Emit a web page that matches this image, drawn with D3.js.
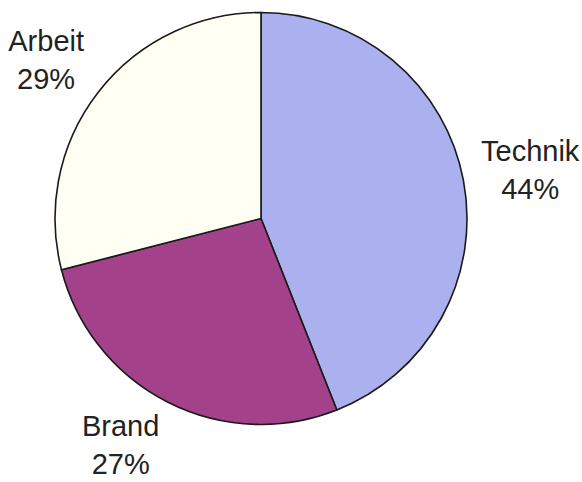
<!DOCTYPE html>
<html>
<head>
<meta charset="utf-8">
<script src="https://cdn.jsdelivr.net/npm/d3@7/dist/d3.min.js"></script>
<style>
html,body{margin:0;padding:0;background:#fff;}
svg{display:block;}
text{font-family:"Liberation Sans",Arial,sans-serif;}
</style>
</head>
<body>
<svg id="chart" width="582" height="482"></svg>
<script>
const categories = ["Technik", "Brand", "Arbeit"];
const values = [44, 27, 29];
const colors = ["#abb0ee", "#a3428a", "#fffff4"];

const width = 582, height = 482;
const cx = 261, cy = 218.5, radius = 206;
const svg = d3.select("#chart");
const g = svg.append("g").attr("transform", `translate(${cx},${cy})`);

const data = categories.map((c, i) => ({ name: c, value: values[i], color: colors[i] }));
const pie = d3.pie().value(d => d.value).sort(null);
const arc = d3.arc().innerRadius(0).outerRadius(radius);
const arcs = pie(data);

g.selectAll("path.slice").data(arcs).join("path")
  .attr("class", "slice")
  .attr("d", arc)
  .attr("fill", d => d.data.color)
  .attr("stroke", "#1a1a1a")
  .attr("stroke-width", 1.6)
  .attr("stroke-linejoin", "round");

const fontSize = 29, lineH = 38;
const clamp = v => Math.max(-1, Math.min(1, v));
arcs.forEach(a => {
  const mid = (a.startAngle + a.endAngle) / 2;
  const ux = Math.sin(mid), uy = -Math.cos(mid);
  const r = radius + 18;
  const ax = ux * r, ay = uy * r;
  const lbl = g.append("g");
  const t = lbl.append("text")
    .attr("text-anchor", "middle")
    .attr("font-size", fontSize)
    .attr("fill", "#222");
  t.append("tspan").attr("x", 0).attr("y", 0).text(a.data.name);
  t.append("tspan").attr("x", 0).attr("y", lineH).text(Math.round(a.data.value) + "%");
  const bb = t.node().getBBox();
  const w = bb.width, h = bb.height;
  const bx = ax + clamp(2.2 * ux) * w / 2;
  let by = ay + clamp(uy) * h / 2;
  const ocx = bb.x + w / 2, ocy = bb.y + h / 2;
  // keep the label block inside the drawing area
  const bottomLimit = height - cy - 2;
  if (by + h / 2 > bottomLimit) by = bottomLimit - h / 2;
  lbl.attr("transform", `translate(${bx - ocx},${by - ocy})`);
});
</script>
</body>
</html>
